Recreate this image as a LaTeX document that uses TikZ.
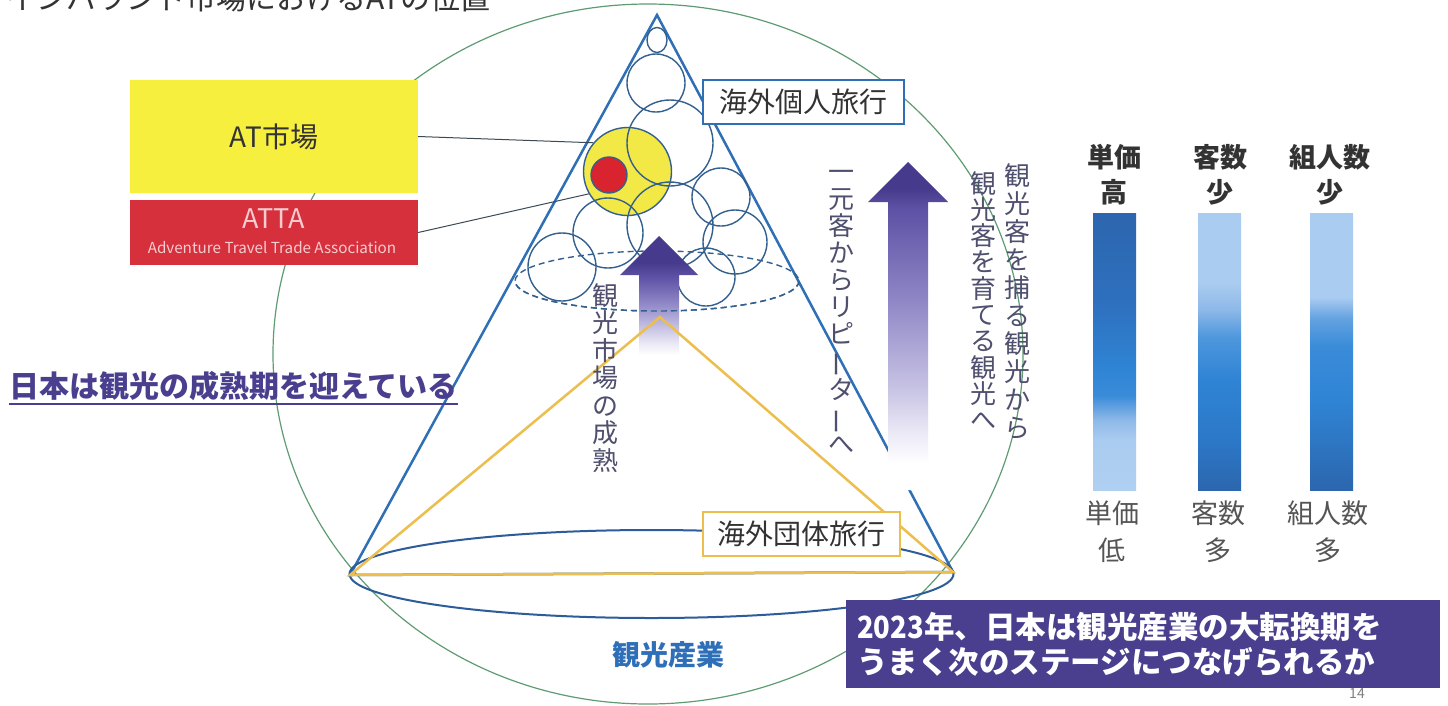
\documentclass[tikz,border=0pt]{standalone}
\usepackage{fontspec}
\usepackage{graphicx}
\setmainfont{Noto Sans CJK JP}
\usetikzlibrary{shapes.geometric}

\definecolor{triblue}{HTML}{2E6FB5}
\definecolor{ellblue}{HTML}{2D5C9A}
\definecolor{circblue}{HTML}{33608E}
\definecolor{grn}{HTML}{5F9C74}
\definecolor{gold}{HTML}{ECBE4E}
\definecolor{atyellow}{HTML}{F6EF3E}
\definecolor{circyellow}{HTML}{F3E946}
\definecolor{attared}{HTML}{D7303D}
\definecolor{dotred}{HTML}{D9232F}
\definecolor{pinktxt}{HTML}{F6CCD0}
\definecolor{navy}{HTML}{4A3E8E}
\definecolor{txt}{HTML}{333333}
\definecolor{txtgray}{HTML}{555555}
\definecolor{vtxt}{HTML}{4F4F6E}
\definecolor{linegray}{HTML}{3C4A56}
\definecolor{sangyo}{HTML}{2E6FB8}
\definecolor{arA}{HTML}{463A8C}
\definecolor{arB}{HTML}{5C51A4}
\definecolor{arC}{HTML}{8F86C6}
\definecolor{arD}{HTML}{C9C5E5}
\definecolor{arE}{HTML}{EAE8F5}
\definecolor{bDark}{HTML}{2C66AE}
\definecolor{bDeep}{HTML}{2E70BE}
\definecolor{bMid}{HTML}{2F84D4}
\definecolor{bBright}{HTML}{3A8CD9}
\definecolor{bPale}{HTML}{8FB9E8}
\definecolor{bLight}{HTML}{AACCF0}
\definecolor{bPale2}{HTML}{B0D0F2}
\definecolor{bTwoA}{HTML}{8DB8E8}
\definecolor{bTwoB}{HTML}{4E97DD}
\definecolor{bTwoC}{HTML}{2C78C8}
\definecolor{bThreeA}{HTML}{64A2E0}

\pgfdeclareverticalshading{bigarrowshade}{100bp}{color(0bp)=(white); color(25bp)=(white); color(29bp)=(white); color(34bp)=(arE); color(40bp)=(arD); color(54bp)=(arC); color(68bp)=(arB); color(71bp)=(arA); color(100bp)=(arA)}
\pgfdeclareverticalshading{midarrowshade}{100bp}{color(0bp)=(white); color(25bp)=(white); color(30bp)=(arE); color(36bp)=(arD); color(47bp)=(arC); color(58bp)=(arB); color(64bp)=(arA); color(100bp)=(arA)}
\pgfdeclareverticalshading{barone}{100bp}{color(0bp)=(bPale2); color(25bp)=(bPale2); color(34bp)=(bLight); color(37.6bp)=(bPale); color(42bp)=(bBright); color(47bp)=(bMid); color(59bp)=(bDeep); color(75bp)=(bDark); color(100bp)=(bDark)}
\pgfdeclareverticalshading{bartwo}{100bp}{color(0bp)=(bDark); color(25bp)=(bDark); color(34bp)=(bTwoC); color(45bp)=(bMid); color(52.6bp)=(bTwoB); color(57.5bp)=(bTwoA); color(62.4bp)=(bLight); color(100bp)=(bLight)}
\pgfdeclareverticalshading{barthree}{100bp}{color(0bp)=(bDark); color(25bp)=(bDark); color(41bp)=(bMid); color(51bp)=(bBright); color(56bp)=(bThreeA); color(59.8bp)=(bLight); color(100bp)=(bLight)}

\tikzset{
  circ/.style={draw=circblue, line width=1.4pt, circle, inner sep=0pt},
  conn/.style={draw=linegray, line width=1pt},
  vtext/.style={font=\fontsize{26}{27.5}\selectfont, text=vtxt, align=center, inner sep=0pt, anchor=north},
  boxtxt/.style={font=\fontsize{28}{30}\selectfont, text=txt},
  dashell/.style={draw=circblue, line width=1.4pt, dash pattern=on 6pt off 4pt},
  toplab/.style={align=center, font=\bfseries\fontsize{27}{35}\selectfont, text=txt},
  botlab/.style={align=center, font=\fontsize{27}{37}\selectfont, text=txtgray},
  barbox/.style={minimum width=43pt, minimum height=277pt, inner sep=0pt, shade}
}

\begin{document}
\begin{tikzpicture}[x=1pt,y=-1pt]
\clip (0,0) rectangle (1448,705);
\fill[white] (0,0) rectangle (1448,705);

% title (cut off at top, as in the reference)
\node[anchor=base west, inner sep=0pt, font=\fontsize{30}{32}\selectfont, text=txt] (title) at (6,9) {インバウンド市場におけるATの位置};

% big green circle
\draw[grn, line width=1.2pt] (648,354) ellipse [x radius=375, y radius=350];

% AT boxes
\node[fill=atyellow, minimum width=288pt, minimum height=113pt, inner sep=0pt, boxtxt] (at) at (274,136.5) {AT市場};
\node[fill=attared, minimum width=288pt, minimum height=65pt, inner sep=0pt] (atta) at (274,232.5) {};
\node[font=\fontsize{27}{30}\selectfont, text=pinktxt, inner sep=0pt] (attaname) at (274,219) {ATTA};
\node[font=\fontsize{15.2}{17}\selectfont, text=pinktxt, inner sep=0pt] (attafull) at (272,248) {Adventure Travel Trade Association};

% blue triangle and base ellipse
\draw[triblue, line width=2.5pt] (657,15) -- (953,572) -- (350,575) -- cycle;
\draw[ellblue, line width=2pt] (651.5,574) ellipse [x radius=302, y radius=44];

% circles
\node[circ, fill=circyellow, minimum size=88pt] (yc) at (627.5,171.5) {};
\node[draw=circblue, line width=1.4pt, ellipse, inner sep=0pt, minimum width=20pt, minimum height=25pt] (c1) at (657,40) {};
\node[circ, minimum size=58pt] (c2) at (656,83) {};
\node[circ, minimum size=86pt] (c3) at (670,143) {};
\node[circ, minimum size=58pt] (c6) at (721,197) {};
\node[circ, minimum size=86pt] (c7) at (670,225) {};
\node[circ, minimum size=70pt] (c8) at (608,233) {};
\node[circ, minimum size=64pt] (c9) at (735,242) {};
\node[circ, minimum size=68pt] (c10) at (562,267) {};
\node[circ, minimum size=58pt] (c11) at (706,277) {};
\node[circ, fill=dotred, minimum size=36pt] (rc) at (609,175) {};

% connectors
\draw[conn] (at.east) -- (yc.140);
\draw[conn] (atta.east) -- (yc.210);

% dashed ellipse
\draw[dashell] (657,281) ellipse [x radius=142, y radius=30];

% arrows
\shade[shading=midarrowshade] (659,236) -- (698,275) -- (679,275) -- (679,355) -- (639,355) -- (639,275) -- (620,275) -- cycle;
\shade[shading=bigarrowshade] (908,162) -- (948,202) -- (928,202) -- (928,490) -- (888,490) -- (888,202) -- (868,202) -- cycle;

% lower half of dashed ellipse over the arrow shaft
\draw[dashell] (799,281) arc[start angle=0, end angle=180, x radius=142, y radius=30];

% orange triangle
\draw[gold, line width=2.5pt] (660,317) -- (953,572) -- (350,575) -- cycle;

% labels on triangle
\node[draw=triblue, line width=2pt, fill=white, minimum width=201pt, minimum height=44pt, inner sep=0pt, boxtxt] (kojin) at (803,101.5) {海外個人旅行};
\node[draw=gold, line width=2pt, fill=white, minimum width=197pt, minimum height=44pt, inner sep=0pt, boxtxt] (dantai) at (801.5,534) {海外団体旅行};
\node[font=\bfseries\fontsize{28}{30}\selectfont, text=sangyo] (sangyo) at (668,655) {観光産業};

% vertical texts
\node[vtext] (vmature) at (605,283) {観\\光\\市\\場\\の\\成\\熟};
\node[vtext, font=\fontsize{26}{27}\selectfont] (vrepeat) at (841,170) {一\\元\\客\\か\\ら\\リ\\ピ\\\rotatebox[origin=c]{90}{ー}\\タ\\\rotatebox[origin=c]{90}{ー}\\へ};
\node[vtext, font=\fontsize{26}{28}\selectfont] (vcatch) at (1017,163) {観\\光\\客\\を\\捕\\る\\観\\光\\か\\ら};
\node[vtext, font=\fontsize{26}{26.3}\selectfont] (vgrow) at (983,171) {観\\光\\客\\を\\育\\て\\る\\観\\光\\へ};

% left statement
\node[anchor=west, inner sep=0pt, font=\bfseries\fontsize{30}{32}\selectfont, text=navy] (mature) at (9,386) {日本は観光の成熟期を迎えている};
\draw[navy, line width=1.5pt] ([yshift=-3pt]mature.south west) -- ([yshift=-3pt]mature.south east);

% bars
\node[barbox, shading=barone] (bar1) at (1114.5,351.5) {};
\node[barbox, shading=bartwo] (bar2) at (1219.5,351.5) {};
\node[barbox, shading=barthree] (bar3) at (1331.5,351.5) {};
\node[toplab] (t1) at (1114,174.5) {単価\\高};
\node[toplab] (t2) at (1220,174.5) {客数\\少};
\node[toplab] (t3) at (1330,174.5) {組人数\\少};
\node[botlab] (b1) at (1112,531.5) {単価\\低};
\node[botlab] (b2) at (1218,531.5) {客数\\多};
\node[botlab] (b3) at (1328,531.5) {組人数\\多};

% page number and message box
\node[font=\fontsize{14}{16}\selectfont, text=gray] (pg) at (1357,693) {14};
\node[fill=navy, minimum width=594pt, minimum height=88pt, inner sep=0pt] (msg) at (1143,644) {};
\node[anchor=west, align=left, inner sep=0pt, font=\bfseries\fontsize{30.5}{35}\selectfont, text=white] (msgtext) at (857,644.5) {\scalebox{0.9}[1]{2023}年、日本は観光産業の大転換期を\\うまく次のステージにつなげられるか};
\end{tikzpicture}
\end{document}
